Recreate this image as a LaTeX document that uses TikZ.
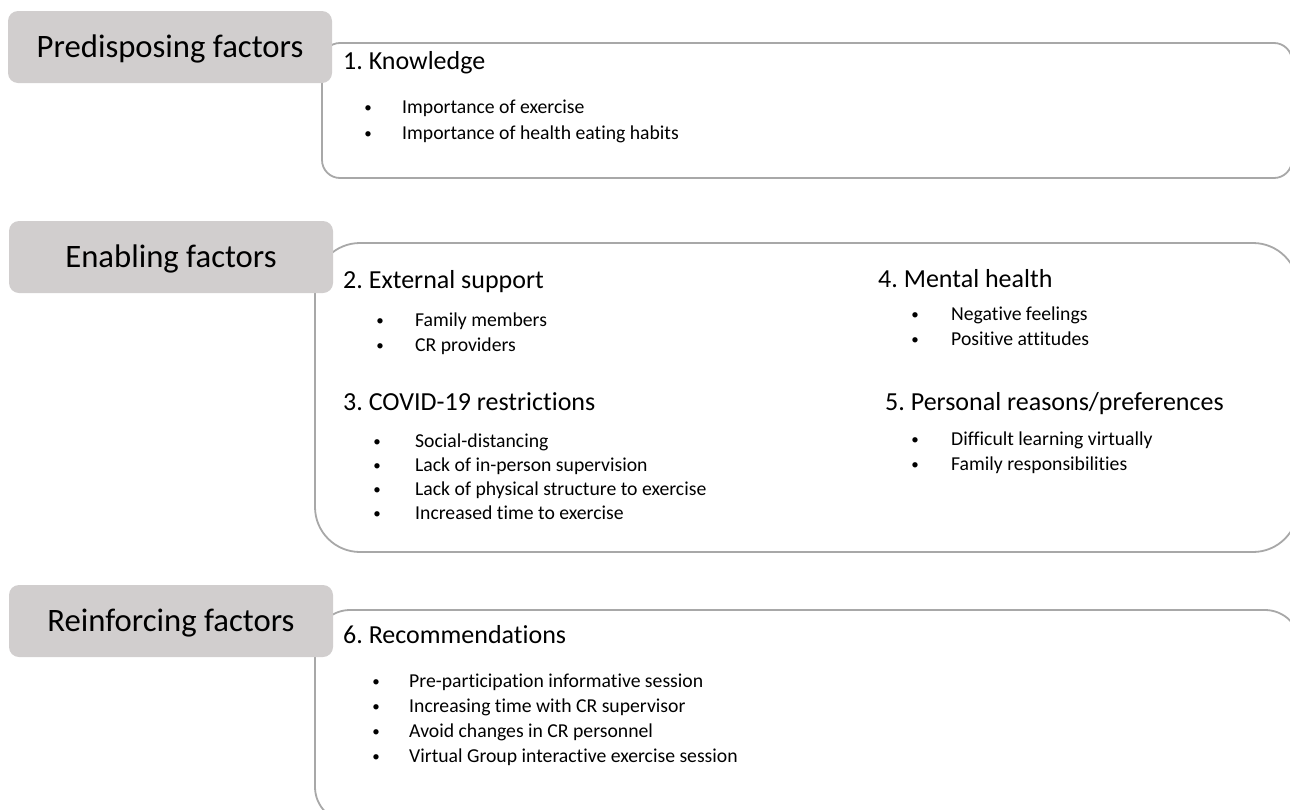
\documentclass[tikz,border=0pt]{standalone}
\usepackage{fontspec}
\setmainfont{Carlito}[Ligatures={NoCommon}]
\frenchspacing
\definecolor{labelgrey}{RGB}{209,206,206}
\definecolor{framegrey}{RGB}{168,168,168}
\tikzset{
  factor/.style={fill=labelgrey, rounded corners=10pt, minimum width=324pt, minimum height=72pt,
    inner sep=0pt, text height=21pt, text depth=0pt, font=\fontsize{32.7}{36}\selectfont},
  panel/.style={draw=framegrey, line width=1.8pt, fill=white},
  theme/.style={anchor=base west, inner sep=0pt, font=\fontsize{26}{30}\selectfont},
  item/.style={anchor=base west, inner sep=0pt, font=\fontsize{19.7}{23}\selectfont},
  dot/.style={anchor=base, inner sep=0pt, yshift=1pt, font=\fontsize{15}{18}\selectfont},
}
\begin{document}
\begin{tikzpicture}[x=1pt,y=-1pt]

\useasboundingbox (0,0) rectangle (1290,809) ;
\clip (0,0) rectangle (1290,809) ;

% cadres blancs

\draw[panel, rounded corners=18pt] (322,43) rectangle (1292,178) ;
\draw[panel, rounded corners=45pt] (315,243) rectangle (1298,552) ;
\draw[panel, rounded corners=35pt] (315,610) rectangle (1300,822) ;

% etiquettes grises

\node[factor] (predisposing) at (170,47) {Predisposing factors} ;
\node[factor] (enabling) at (171,257) {Enabling factors} ;
\node[factor] (reinforcing) at (171,621) {Reinforcing factors} ;

% 1. connaissances

\node[theme] (knowledge) at (343,69) {1. Knowledge} ;
\node[dot] (kdot1) at (368,113) {•} ;
\node[item] (kitem1) at (402,113) {Importance of exercise} ;
\node[dot] (kdot2) at (368,139) {•} ;
\node[item] (kitem2) at (402,139) {Importance of health eating habits} ;

% 2. soutien externe

\node[theme] (support) at (343,288) {2. External support} ;
\node[dot] (sdot1) at (380,326) {•} ;
\node[item] (sitem1) at (415,326) {Family members} ;
\node[dot] (sdot2) at (380,351) {•} ;
\node[item] (sitem2) at (415,351) {CR providers} ;

% 3. restrictions

\node[theme] (covid) at (343,410) {3. COVID-19 restrictions} ;
\node[dot] (cdot1) at (377,447) {•} ;
\node[item] (citem1) at (415,447) {Social-distancing} ;
\node[dot] (cdot2) at (377,471) {•} ;
\node[item] (citem2) at (415,471) {Lack of in-person supervision} ;
\node[dot] (cdot3) at (377,495) {•} ;
\node[item] (citem3) at (415,495) {Lack of physical structure to exercise} ;
\node[dot] (cdot4) at (377,519) {•} ;
\node[item] (citem4) at (415,519) {Increased time to exercise} ;

% 4. sante mentale

\node[theme] (mental) at (878,287) {4. Mental health} ;
\node[dot] (mdot1) at (915,320) {•} ;
\node[item] (mitem1) at (951,320) {Negative feelings} ;
\node[dot] (mdot2) at (915,345) {•} ;
\node[item] (mitem2) at (951,345) {Positive attitudes} ;

% 5. raisons personnelles

\node[theme] (personal) at (885,410) {5. Personal reasons/preferences} ;
\node[dot] (pdot1) at (915,445) {•} ;
\node[item] (pitem1) at (951,445) {Difficult learning virtually} ;
\node[dot] (pdot2) at (915,470) {•} ;
\node[item] (pitem2) at (951,470) {Family responsibilities} ;

% 6. recommandations

\node[theme] (recommend) at (343,643) {6. Recommendations} ;
\node[dot] (rdot1) at (376,687) {•} ;
\node[item] (ritem1) at (409,687) {Pre-participation informative session} ;
\node[dot] (rdot2) at (376,712) {•} ;
\node[item] (ritem2) at (409,712) {Increasing time with CR supervisor} ;
\node[dot] (rdot3) at (376,737) {•} ;
\node[item] (ritem3) at (409,737) {Avoid changes in CR personnel} ;
\node[dot] (rdot4) at (376,762) {•} ;
\node[item] (ritem4) at (409,762) {Virtual Group interactive exercise session} ;

\end{tikzpicture}
\end{document}
